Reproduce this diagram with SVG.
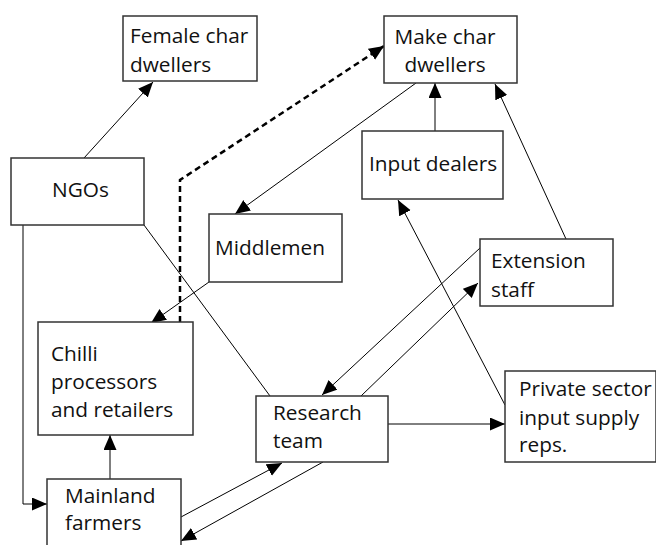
<svg xmlns="http://www.w3.org/2000/svg" width="656" height="545" viewBox="0 0 656 545">
<style>
.box{fill:#fff;stroke:#333;stroke-width:1.5}
.t{font-family:"Open Sans","Liberation Sans",sans-serif;font-size:20.8px;fill:#111}
.c{fill:none;stroke:#000;stroke-width:1}
.d{fill:none;stroke:#000;stroke-width:2.5;stroke-dasharray:6,4}
</style>
<defs>
<marker id="ah" markerUnits="userSpaceOnUse" markerWidth="16" markerHeight="14" refX="15" refY="6.5" orient="auto">
<path d="M0,0 L15,6.5 L0,13 z" fill="#000"/>
</marker>
</defs>
<rect width="656" height="545" fill="#fff"/>
<g id="connectors">
<line class="c" x1="84" y1="158" x2="153" y2="82" marker-end="url(#ah)"/>
<polyline class="c" points="23,225 23,504 47,504" marker-end="url(#ah)"/>
<line class="c" x1="144" y1="225" x2="270" y2="396"/>
<polyline class="d" points="180,322 180,180 384,46" marker-end="url(#ah)"/>
<line class="c" x1="416" y1="83" x2="235" y2="214" marker-end="url(#ah)"/>
<line class="c" x1="209" y1="282" x2="151" y2="323" marker-end="url(#ah)"/>
<line class="c" x1="435" y1="131" x2="435" y2="83" marker-end="url(#ah)"/>
<line class="c" x1="566" y1="239" x2="495" y2="84" marker-end="url(#ah)"/>
<line class="c" x1="505" y1="405" x2="398" y2="200" marker-end="url(#ah)"/>
<line class="c" x1="480" y1="248" x2="322" y2="395" marker-end="url(#ah)"/>
<line class="c" x1="361" y1="396" x2="478" y2="283" marker-end="url(#ah)"/>
<line class="c" x1="388" y1="424" x2="505" y2="424" marker-end="url(#ah)"/>
<line class="c" x1="110" y1="479" x2="110" y2="435" marker-end="url(#ah)"/>
<line class="c" x1="181" y1="517" x2="282" y2="463" marker-end="url(#ah)"/>
<line class="c" x1="323" y1="462" x2="181" y2="541" marker-end="url(#ah)"/>
</g>
<g id="female">
<rect class="box" x="123" y="16" width="134" height="65"/>
<text class="t" x="130" y="43">Female char</text>
<text class="t" x="130" y="72">dwellers</text>
</g>
<g id="make">
<rect class="box" x="384" y="16" width="133" height="67"/>
<text class="t" x="445" y="44" text-anchor="middle">Make char</text>
<text class="t" x="445" y="72" text-anchor="middle">dwellers</text>
</g>
<g id="ngos">
<rect class="box" x="11" y="158" width="133" height="67"/>
<text class="t" x="52" y="197">NGOs</text>
</g>
<g id="input">
<rect class="box" x="362" y="131" width="141" height="68"/>
<text class="t" x="369" y="171">Input dealers</text>
</g>
<g id="middlemen">
<rect class="box" x="209" y="214" width="133" height="68"/>
<text class="t" x="215" y="255">Middlemen</text>
</g>
<g id="extension">
<rect class="box" x="480" y="239" width="133" height="67"/>
<text class="t" x="491" y="268">Extension</text>
<text class="t" x="491" y="297">staff</text>
</g>
<g id="chilli">
<rect class="box" x="38" y="322" width="155" height="113"/>
<text class="t" x="51" y="361">Chilli</text>
<text class="t" x="51" y="389">processors</text>
<text class="t" x="51" y="417">and retailers</text>
</g>
<g id="research">
<rect class="box" x="256" y="396" width="132" height="66"/>
<text class="t" x="273" y="420">Research</text>
<text class="t" x="273" y="448">team</text>
</g>
<g id="private">
<rect class="box" x="505" y="371" width="151" height="91"/>
<text class="t" x="519" y="396">Private sector</text>
<text class="t" x="519" y="425">input supply</text>
<text class="t" x="519" y="452">reps.</text>
</g>
<g id="mainland">
<rect class="box" x="47" y="479" width="134" height="75"/>
<text class="t" x="65" y="503">Mainland</text>
<text class="t" x="65" y="530">farmers</text>
</g>
</svg>
